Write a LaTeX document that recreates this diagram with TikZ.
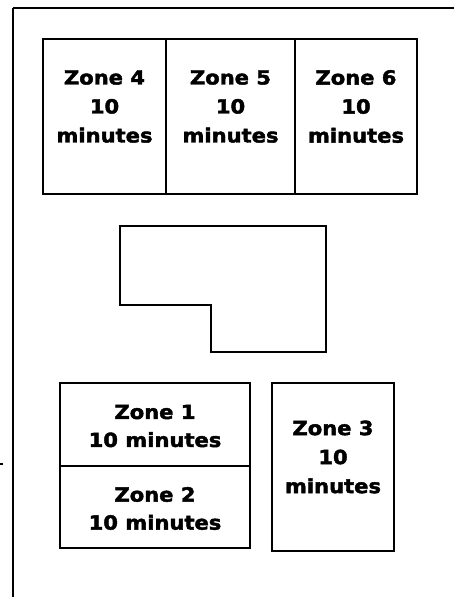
\documentclass[tikz,border=0pt]{standalone}
\usepackage{fontspec}
\setmainfont[FakeStretch=1.08, BoldFeatures={FakeBold=2.2}]{DejaVu Sans}
\usetikzlibrary{positioning}

\begin{document}
\begin{tikzpicture}[x=1pt, y=-1pt, line width=1.8pt,
  zone/.style={draw, rectangle, inner sep=0pt, outer sep=0pt, line width=1.6pt},
  zonetext/.style={font=\bfseries\fontsize{19.5}{29}\selectfont, align=center, inner sep=0pt},
  widetext/.style={zonetext, font=\bfseries\fontsize{19.5}{28}\selectfont}
]
  \useasboundingbox (0,0) rectangle (454,597);

  % frame
  \draw (13,8) -- (454,8);
  \draw (13,8) -- (13,597);
  \draw[line width=1.5pt] (0,464) -- (2.5,464);

  % upper row
  \node[zone, minimum width=123pt, minimum height=155pt] (z4) at (104.5,116.5) {};
  \node[zone, minimum width=129pt, minimum height=155pt, right=0pt of z4] (z5) {};
  \node[zone, minimum width=122pt, minimum height=155pt, right=0pt of z5] (z6) {};
  \node[zonetext] (t4) at ([yshift=10pt]z4.center) {Zone 4\\10\\minutes};
  \node[zonetext] (t5) at ([yshift=10pt]z5.center) {Zone 5\\10\\minutes};
  \node[zonetext] (t6) at ([yshift=10pt]z6.center) {Zone 6\\10\\minutes};

  % building
  \draw (120,226) -- (326,226) -- (326,352) -- (211,352) -- (211,305) -- (120,305) -- cycle;

  % lower row
  \node[zone, minimum width=190pt, minimum height=83pt] (z1) at (155,424.5) {};
  \node[zone, minimum width=190pt, minimum height=82pt, below=0pt of z1] (z2) {};
  \node[zone, minimum width=122pt, minimum height=168pt] (z3) at (333,467) {};
  \node[widetext] (t1) at ([yshift=-1.5pt]z1.center) {Zone 1\\10 minutes};
  \node[widetext] (t2) at ([yshift=-1.5pt]z2.center) {Zone 2\\10 minutes};
  \node[zonetext] (t3) at ([yshift=10pt]z3.center) {Zone 3\\10\\minutes};
\end{tikzpicture}
\end{document}
